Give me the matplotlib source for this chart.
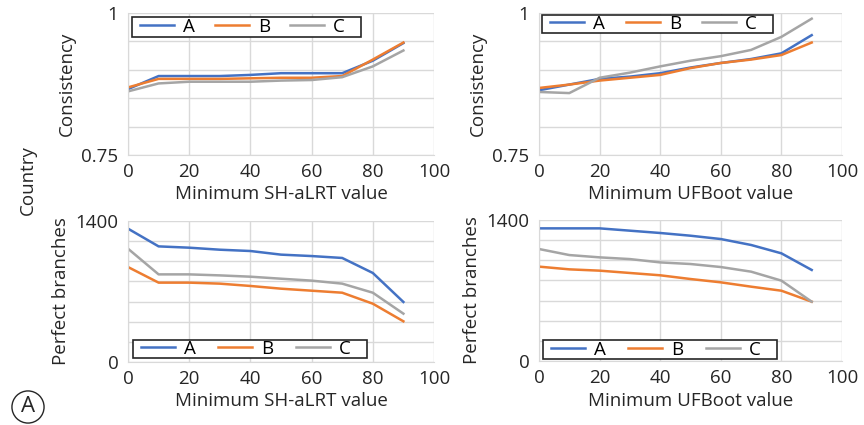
import matplotlib.pyplot as plt
from matplotlib.patches import Rectangle

plt.rcParams['font.family'] = ['Open Sans', 'DejaVu Sans']

# Minimum support thresholds
thresholds = [0, 10, 20, 30, 40, 50, 60, 70, 80, 90]

# Consistency vs minimum SH-aLRT
cons_sh_a = [0.866, 0.889, 0.889, 0.889, 0.891, 0.894, 0.894, 0.894, 0.916, 0.947]
cons_sh_b = [0.869, 0.884, 0.884, 0.884, 0.885, 0.886, 0.886, 0.889, 0.918, 0.948]
cons_sh_c = [0.862, 0.876, 0.879, 0.879, 0.879, 0.881, 0.882, 0.887, 0.906, 0.934]

# Consistency vs minimum UFBoot
cons_uf_a = [0.864, 0.874, 0.884, 0.888, 0.894, 0.904, 0.912, 0.919, 0.929, 0.961]
cons_uf_b = [0.868, 0.874, 0.881, 0.886, 0.891, 0.903, 0.912, 0.918, 0.926, 0.948]
cons_uf_c = [0.861, 0.859, 0.886, 0.895, 0.906, 0.916, 0.924, 0.935, 0.958, 0.990]

# Perfect branches vs minimum SH-aLRT
perf_sh_a = [1324, 1148, 1135, 1115, 1102, 1066, 1052, 1033, 884, 596]
perf_sh_b = [943, 788, 788, 778, 755, 728, 708, 688, 579, 404]
perf_sh_c = [1125, 870, 870, 860, 847, 827, 808, 778, 688, 480]

# Perfect branches vs minimum UFBoot
perf_uf_a = [1317, 1317, 1317, 1294, 1271, 1244, 1211, 1152, 1069, 904]
perf_uf_b = [937, 910, 897, 874, 851, 814, 781, 738, 698, 589]
perf_uf_c = [1112, 1052, 1029, 1012, 979, 963, 933, 887, 798, 589]

labels = ['A', 'B', 'C']
colors = ['#4472C4', '#ED7D31', '#A5A5A5']

fig = plt.figure(figsize=(8.64, 4.25), dpi=100)
W, H = 864, 425


def make_ax(l, r, t, b):
    return fig.add_axes([l / W, 1 - b / H, (r - l) / W, (b - t) / H])


ax_tl = make_ax(128, 434, 13, 155)
ax_tr = make_ax(539, 842, 13, 155)
ax_bl = make_ax(128, 434, 221, 362)
ax_br = make_ax(539, 842, 220, 361)

panels = [
    (ax_tl, [cons_sh_a, cons_sh_b, cons_sh_c], 'Minimum SH-aLRT value', 'Consistency'),
    (ax_tr, [cons_uf_a, cons_uf_b, cons_uf_c], 'Minimum UFBoot value', 'Consistency'),
    (ax_bl, [perf_sh_a, perf_sh_b, perf_sh_c], 'Minimum SH-aLRT value', 'Perfect branches'),
    (ax_br, [perf_uf_a, perf_uf_b, perf_uf_c], 'Minimum UFBoot value', 'Perfect branches'),
]

fs = 13.5
for i, (ax, series, xlab, ylab) in enumerate(panels):
    for s, lab, c in zip(series, labels, colors):
        ax.plot(thresholds, s, color=c, linewidth=1.8, label=lab)
    ax.set_xlim(0, 100)
    ax.set_xticks([0, 20, 40, 60, 80, 100])
    if i < 2:
        ax.set_ylim(0.75, 1)
        ax.set_yticks([0.75, 1])
        ax.set_yticklabels(['0.75', '1'])
        ax.set_yticks([0.8, 0.85, 0.9, 0.95], minor=True)
    else:
        ax.set_ylim(0, 1400)
        ax.set_yticks([0, 1400])
        ax.set_yticks([200, 400, 600, 800, 1000, 1200], minor=True)
    ax.grid(True, which='both', color='#d9d9d9', linewidth=1)
    ax.set_axisbelow(True)
    for sp in ['top', 'right']:
        ax.spines[sp].set_visible(False)
    for sp in ['left', 'bottom']:
        ax.spines[sp].set_color('#d9d9d9')
    ax.tick_params(which='both', length=0, labelsize=fs, colors='#262626')
    ax.tick_params(axis='x', pad=6)
    ax.tick_params(axis='y', pad=7)
    ax.set_xlabel(xlab, fontsize=fs, color='#262626', labelpad=3)
    ax.set_ylabel(ylab, fontsize=fs, color='#262626', labelpad=4)

# legend boxes in axes fraction: x0, y0, x1, y1
leg_boxes = {
    ax_tl: (0.013, 0.831, 0.761, 0.972),
    ax_tr: (0.010, 0.859, 0.772, 0.986),
    ax_bl: (0.016, 0.028, 0.781, 0.156),
    ax_br: (0.013, 0.014, 0.785, 0.149),
}
for ax, (x0, y0, x1, y1) in leg_boxes.items():
    ax_w = ax.bbox.width
    inset_l = 8 / ax_w
    inset_r = 16 / ax_w
    ax.add_patch(Rectangle((x0, y0), x1 - x0, y1 - y0, transform=ax.transAxes,
                           facecolor='white', edgecolor='#262626', linewidth=1.2,
                           zorder=4, clip_on=False))
    leg = ax.legend(loc='center left',
                    bbox_to_anchor=(x0 + inset_l, y0, (x1 - x0) - inset_l - inset_r, y1 - y0),
                    mode='expand', ncol=3, fontsize=fs, frameon=False,
                    borderaxespad=0, borderpad=0.0, handlelength=1.8,
                    handletextpad=0.5, columnspacing=0.8, labelspacing=0)
    leg.set_zorder(5)

fig.text(28 / W, 1 - 180 / H, 'Country', rotation=90, fontsize=fs,
         color='#262626', ha='center', va='center')
fig.text(28 / W, 1 - 407 / H, 'A', fontsize=16, color='#262626', ha='center', va='center',
         bbox=dict(boxstyle='circle,pad=0.25', fc='white', ec='#262626', lw=1))

fig.savefig('out.png', dpi=100)
